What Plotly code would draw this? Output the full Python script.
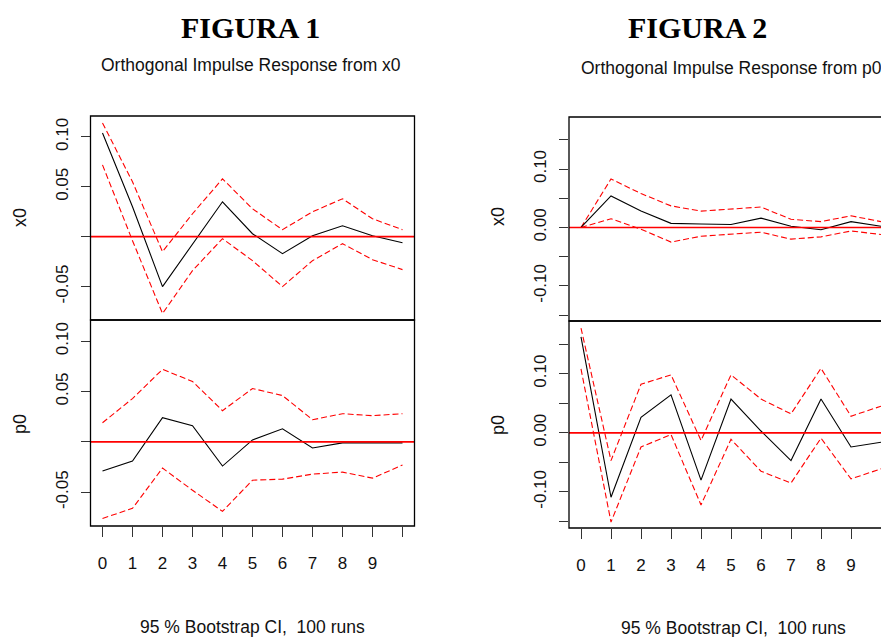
import plotly.graph_objects as go

W, H = 889, 637
OFF = 8  # page body margin that shifts the figure in the browser window

steps = list(range(11))
x_ticktext = ["0", "1", "2", "3", "4", "5", "6", "7", "8", "9", ""]

# FIGURA 1: impulse from x0
f1_x0_irf = [0.104, 0.030, -0.050, -0.007, 0.035, 0.003, -0.017, 0.001, 0.011, 0.001, -0.006]
f1_x0_upper = [0.114, 0.055, -0.015, 0.023, 0.058, 0.028, 0.007, 0.025, 0.038, 0.018, 0.007]
f1_x0_lower = [0.072, -0.004, -0.077, -0.034, -0.002, -0.024, -0.050, -0.024, -0.007, -0.023, -0.033]
f1_p0_irf = [-0.029, -0.019, 0.024, 0.016, -0.024, 0.002, 0.013, -0.006, -0.001, -0.001, -0.001]
f1_p0_upper = [0.019, 0.043, 0.072, 0.060, 0.031, 0.053, 0.046, 0.022, 0.028, 0.026, 0.028]
f1_p0_lower = [-0.076, -0.066, -0.026, -0.048, -0.069, -0.038, -0.037, -0.032, -0.030, -0.036, -0.023]

# FIGURA 2: impulse from p0
f2_x0_irf = [0.000, 0.054, 0.028, 0.007, 0.006, 0.005, 0.016, 0.002, -0.004, 0.010, 0.002]
f2_x0_upper = [0.000, 0.083, 0.058, 0.037, 0.028, 0.031, 0.035, 0.014, 0.010, 0.020, 0.010]
f2_x0_lower = [0.000, 0.015, -0.003, -0.025, -0.015, -0.011, -0.008, -0.020, -0.016, -0.006, -0.012]
f2_p0_irf = [0.162, -0.109, 0.026, 0.064, -0.080, 0.057, 0.003, -0.047, 0.057, -0.024, -0.016]
f2_p0_upper = [0.177, -0.047, 0.082, 0.098, -0.013, 0.098, 0.057, 0.032, 0.109, 0.028, 0.045]
f2_p0_lower = [0.108, -0.151, -0.024, -0.003, -0.122, -0.011, -0.065, -0.085, -0.009, -0.078, -0.061]

f1_yticks = [-0.05, 0.0, 0.05, 0.10]
f1_yticktext = ["-0.05", "", "0.05", "0.10"]
f2_yticks = [-0.15, -0.10, -0.05, 0.0, 0.05, 0.10, 0.15]
f2_yticktext = ["", "-0.10", "", "0.00", "", "0.10", ""]

SANS = "Liberation Sans, Arial, sans-serif"
SERIF = "Liberation Serif, Times New Roman, serif"

def px_x(p):
    return (p - OFF) / W

def px_y(p):
    return 1 - (p - OFF) / H

panels = [
    # (xdom px, ydom px, xrange, yrange, irf, up, lo, yticks, yticktext, bottom)
    ((90.5, 414.5), (116, 320), [-0.4, 10.4], [-0.0835, 0.121], f1_x0_irf, f1_x0_upper, f1_x0_lower, f1_yticks, f1_yticktext, False),
    ((90.5, 414.5), (320, 526), [-0.4, 10.4], [-0.0835, 0.121], f1_p0_irf, f1_p0_upper, f1_p0_lower, f1_yticks, f1_yticktext, True),
    ((569, 893), (117, 321), [-0.4, 10.4], [-0.160, 0.189], f2_x0_irf, f2_x0_upper, f2_x0_lower, f2_yticks, f2_yticktext, False),
    ((569, 893), (321, 528), [-0.4, 10.4], [-0.161, 0.189], f2_p0_irf, f2_p0_upper, f2_p0_lower, f2_yticks, f2_yticktext, True),
]

fig = go.Figure()
shapes = []
layout = {}
for i, (xd, yd, xr, yr, irf, up, lo, yt, ytt, bottom) in enumerate(panels, start=1):
    xa = "x" if i == 1 else f"x{i}"
    ya = "y" if i == 1 else f"y{i}"
    xk = "xaxis" if i == 1 else f"xaxis{i}"
    yk = "yaxis" if i == 1 else f"yaxis{i}"
    for vals, color, dash in [(up, "#ff0000", "6px,3px"), (lo, "#ff0000", "6px,3px"), (irf, "#000000", "solid")]:
        fig.add_trace(go.Scatter(x=steps, y=vals, mode="lines", xaxis=xa, yaxis=ya,
                                 line=dict(color=color, width=1.1, dash=dash),
                                 showlegend=False, hoverinfo="skip"))
    layout[xk] = dict(domain=[px_x(xd[0]), px_x(xd[1])], range=xr, anchor=ya,
                      showgrid=False, zeroline=False, showline=False,
                      tickvals=steps if bottom else [], ticktext=x_ticktext if bottom else [],
                      ticks="outside" if bottom else "", ticklen=10, tickcolor="#333333",
                      tickfont=dict(family=SANS, size=17, color="#111111"),
                      ticklabelstandoff=12, showticklabels=bottom)
    layout[yk] = dict(domain=[px_y(yd[1]), px_y(yd[0])], range=yr, anchor=xa,
                      showgrid=False, zeroline=False, showline=False,
                      tickvals=yt, ticktext=ytt, ticks="outside", ticklen=9,
                      tickcolor="#333333", tickangle=-90,
                      tickfont=dict(family=SANS, size=17, color="#111111"),
                      ticklabelstandoff=6)
    # red zero reference line (drawn over the curves, like abline in R)
    shapes.append(dict(type="line", xref=f"{xa} domain", yref=ya, x0=0, x1=1, y0=0, y1=0,
                       line=dict(color="#ff0000", width=1.7), layer="above"))
    # frame
    shapes.append(dict(type="rect", xref=f"{xa} domain", yref=f"{ya} domain",
                       x0=0, x1=1, y0=0, y1=1, line=dict(color="#000000", width=1.3)))

annotations = [
    dict(text="<b>FIGURA 1</b>", x=px_x(250), y=px_y(28), font=dict(family=SERIF, size=30, color="#000")),
    dict(text="<b>FIGURA 2</b>", x=px_x(697), y=px_y(28), font=dict(family=SERIF, size=30, color="#000")),
    dict(text="Orthogonal Impulse Response from x0", x=px_x(251), y=px_y(65), font=dict(family=SANS, size=17.5, color="#111")),
    dict(text="Orthogonal Impulse Response from p0", x=px_x(731), y=px_y(68), font=dict(family=SANS, size=17.5, color="#111")),
    dict(text="95 % Bootstrap CI,  100 runs", x=px_x(252), y=px_y(627), font=dict(family=SANS, size=17.5, color="#111")),
    dict(text="95 % Bootstrap CI,  100 runs", x=px_x(733), y=px_y(628), font=dict(family=SANS, size=17.5, color="#111")),
    dict(text="x0", x=px_x(20), y=px_y(218), textangle=-90, font=dict(family=SANS, size=18, color="#111")),
    dict(text="p0", x=px_x(20), y=px_y(424), textangle=-90, font=dict(family=SANS, size=18, color="#111")),
    dict(text="x0", x=px_x(498), y=px_y(217), textangle=-90, font=dict(family=SANS, size=18, color="#111")),
    dict(text="p0", x=px_x(498), y=px_y(425), textangle=-90, font=dict(family=SANS, size=18, color="#111")),
]
for a in annotations:
    a.update(xref="paper", yref="paper", showarrow=False, xanchor="center", yanchor="middle")

fig.update_layout(width=W, height=H, margin=dict(l=0, r=0, t=0, b=0),
                  paper_bgcolor="white", plot_bgcolor="white",
                  shapes=shapes, annotations=annotations, **layout)

fig.write_html("out.html")
